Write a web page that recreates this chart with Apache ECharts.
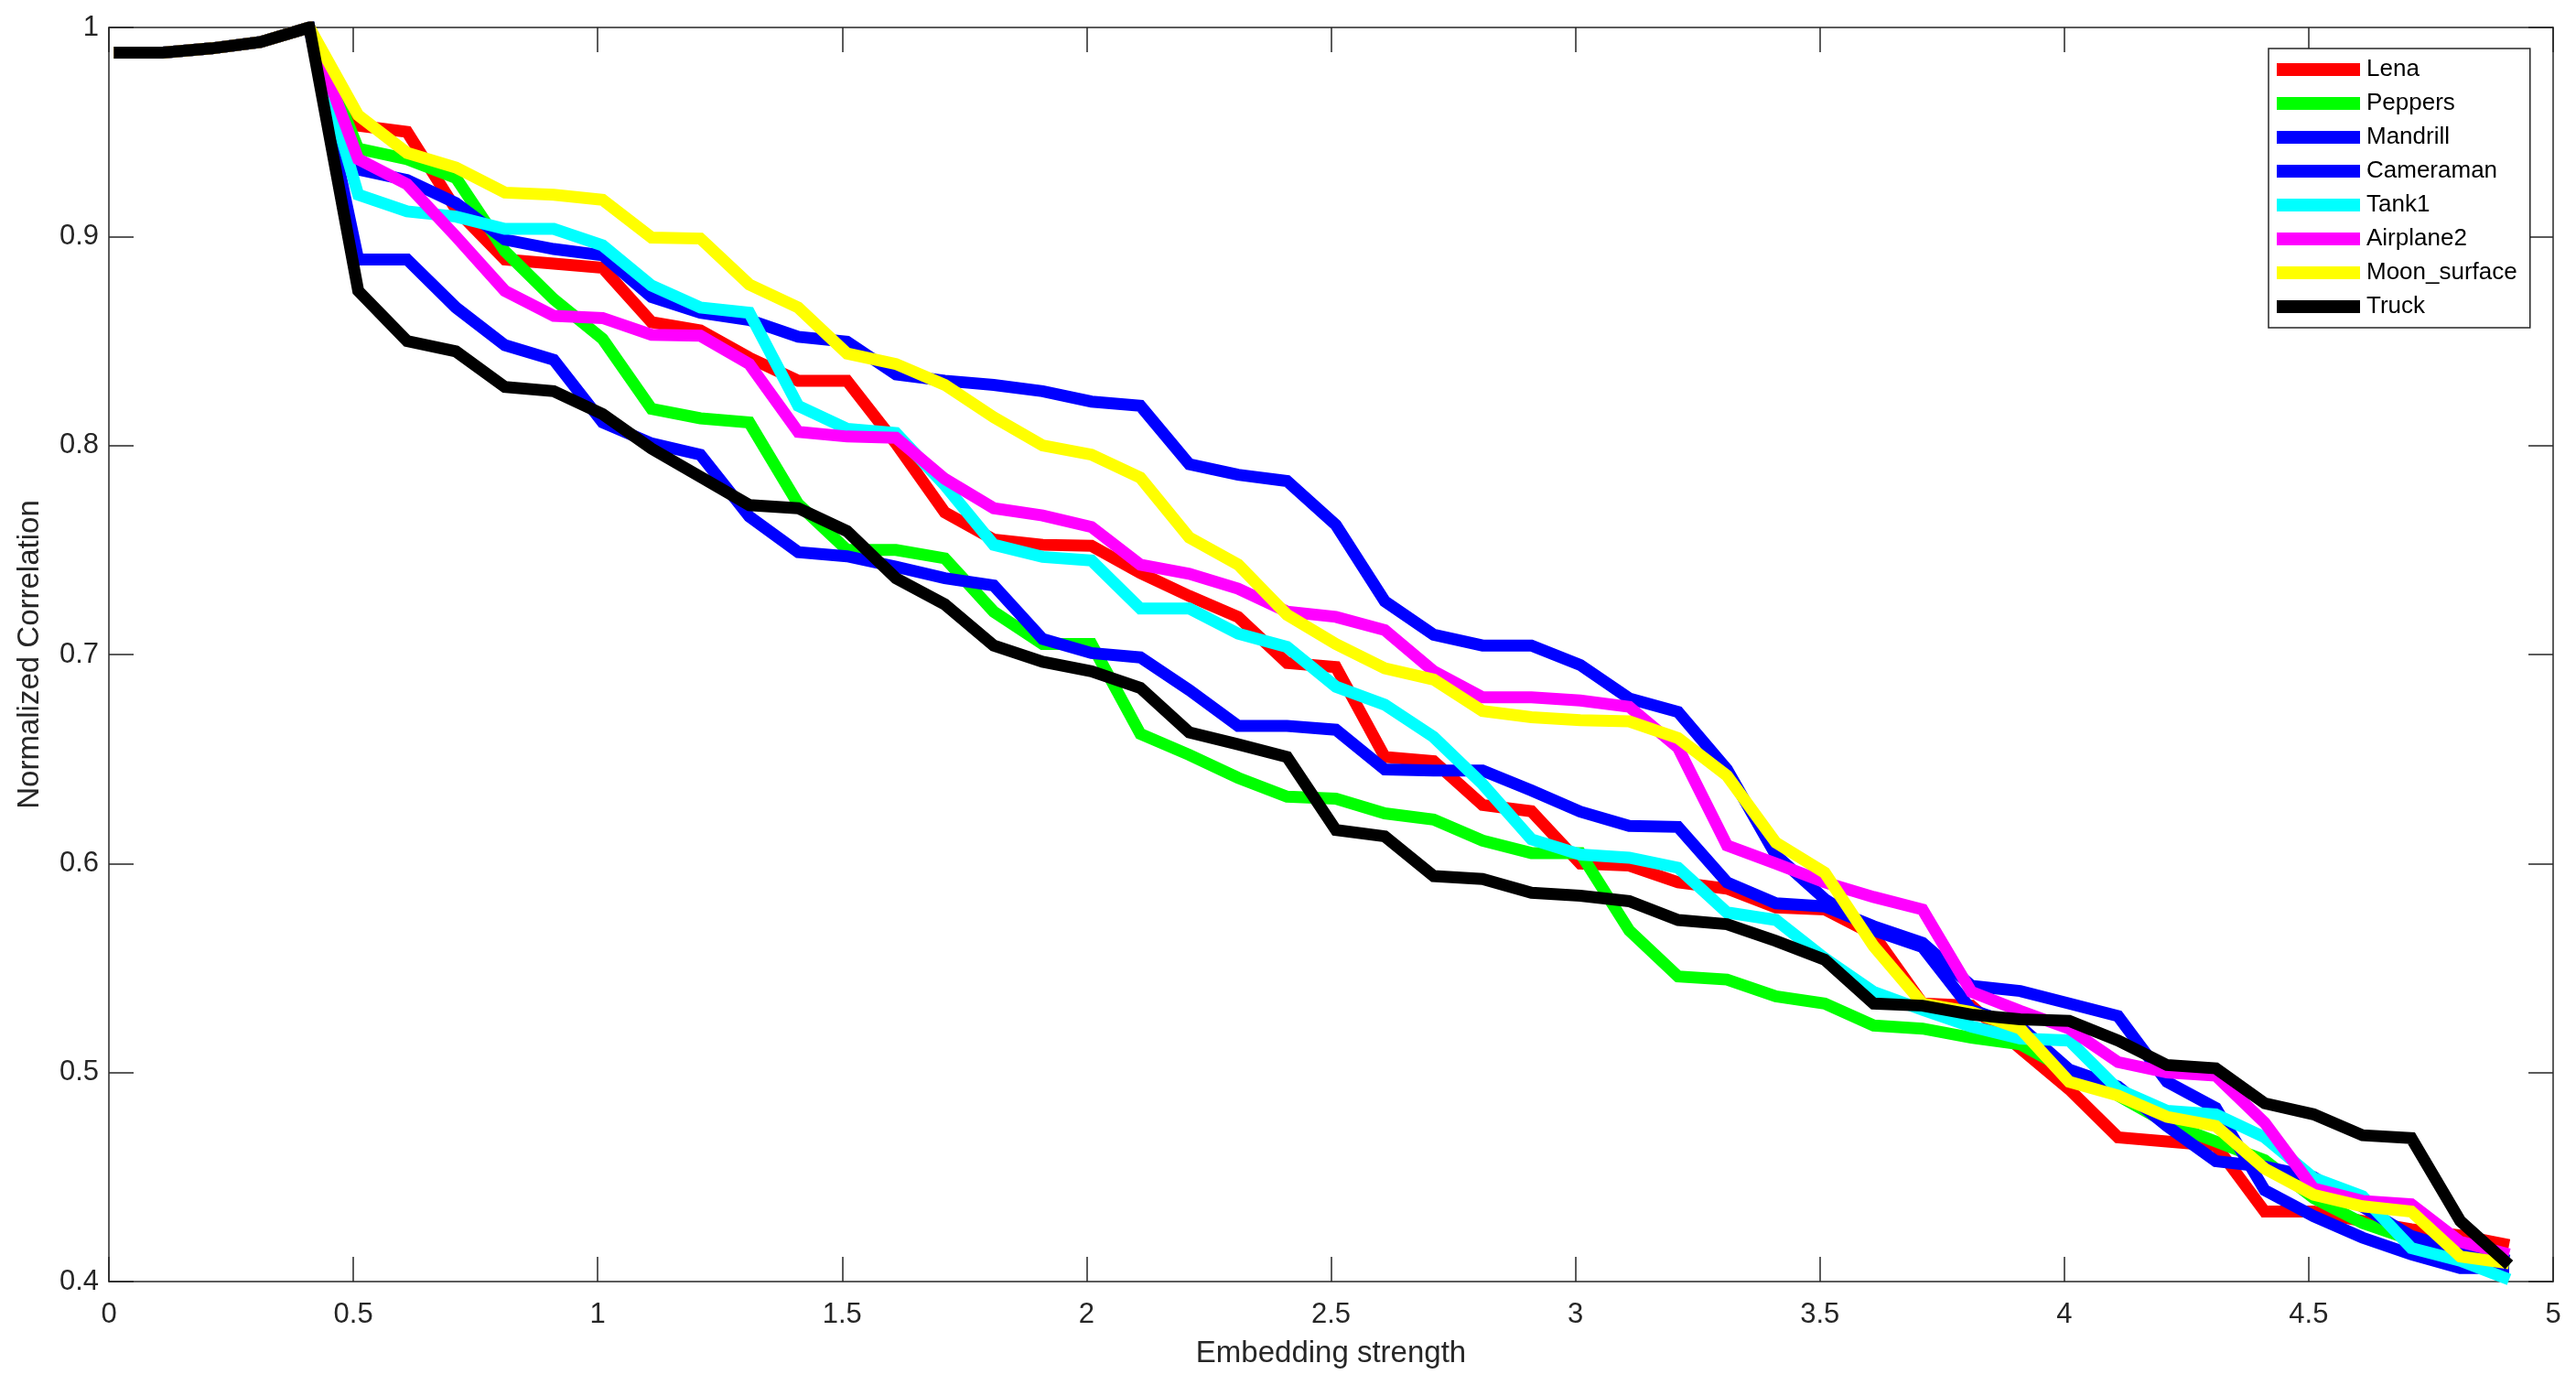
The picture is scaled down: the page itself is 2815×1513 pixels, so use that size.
<!DOCTYPE html>
<html>
<head>
<meta charset="utf-8">
<script src="https://cdn.jsdelivr.net/npm/echarts@6/dist/echarts.min.js"></script>
<style>
html,body{margin:0;padding:0;background:#fff;}
#chart{width:2815px;height:1513px;}
</style>
</head>
<body>
<div id="chart"></div>
<script>
// Embedding strength values (x)
const strength = [0.01,0.11,0.21,0.31,0.41,0.51,0.61,0.71,0.81,0.91,
  1.01,1.11,1.21,1.31,1.41,1.51,1.61,1.71,1.81,1.91,
  2.01,2.11,2.21,2.31,2.41,2.51,2.61,2.71,2.81,2.91,
  3.01,3.11,3.21,3.31,3.41,3.51,3.61,3.71,3.81,3.91,
  4.01,4.11,4.21,4.31,4.41,4.51,4.61,4.71,4.81,4.91];

const lena = [0.988,0.988,0.990,0.993,1.000,0.953,0.950,0.913,0.889,0.887,
  0.885,0.859,0.855,0.842,0.831,0.831,0.801,0.768,0.755,0.7525,
  0.752,0.739,0.728,0.718,0.696,0.694,0.651,0.649,0.628,0.625,
  0.600,0.599,0.591,0.588,0.579,0.578,0.566,0.533,0.532,0.5115,
  0.492,0.469,0.467,0.465,0.4335,0.4335,0.429,0.425,0.422,0.4175];

const peppers = [0.988,0.988,0.990,0.993,1.000,0.942,0.937,0.928,0.893,0.870,
  0.851,0.8175,0.813,0.811,0.772,0.750,0.750,0.746,0.7205,0.705,
  0.705,0.662,0.652,0.641,0.632,0.631,0.624,0.621,0.611,0.605,
  0.605,0.568,0.546,0.5445,0.5365,0.533,0.5225,0.521,0.5167,0.5135,
  0.5007,0.489,0.4758,0.467,0.458,0.440,0.428,0.420,0.412,0.407];

const mandrill = [0.988,0.988,0.990,0.993,1.000,0.932,0.927,0.916,0.8985,0.894,
  0.891,0.871,0.8635,0.860,0.852,0.8497,0.834,0.831,0.829,0.826,
  0.821,0.819,0.791,0.786,0.783,0.762,0.7255,0.7095,0.7043,0.7043,
  0.695,0.679,0.6725,0.645,0.604,0.583,0.568,0.560,0.530,0.522,
  0.5014,0.4933,0.4744,0.4576,0.455,0.450,0.4358,0.4218,0.4147,0.410];

const cameraman = [0.988,0.988,0.990,0.993,1.000,0.889,0.889,0.866,0.848,0.841,
  0.811,0.801,0.7956,0.766,0.749,0.747,0.742,0.7365,0.733,0.7074,
  0.7007,0.6986,0.683,0.6658,0.6658,0.664,0.645,0.6445,0.6445,0.635,
  0.6248,0.618,0.6175,0.591,0.581,0.5795,0.570,0.562,0.5415,0.539,
  0.533,0.527,0.4956,0.483,0.4437,0.4313,0.421,0.413,0.4065,0.4065];

const tank1 = [0.988,0.988,0.990,0.993,1.000,0.920,0.912,0.9095,0.9036,0.9036,
  0.8957,0.8765,0.866,0.8635,0.819,0.808,0.806,0.781,0.7525,0.7467,
  0.745,0.722,0.722,0.710,0.7036,0.6846,0.676,0.6605,0.638,0.6116,
  0.6043,0.6028,0.598,0.5766,0.573,0.5547,0.5386,0.530,0.522,0.5163,
  0.5153,0.492,0.4817,0.480,0.469,0.4496,0.4408,0.416,0.410,0.401];

const airplane2 = [0.988,0.988,0.990,0.993,1.000,0.937,0.925,0.900,0.874,0.862,
  0.861,0.853,0.8525,0.839,0.8065,0.8043,0.8037,0.784,0.770,0.7665,
  0.761,0.743,0.7386,0.7315,0.7205,0.718,0.7117,0.692,0.6795,0.6795,
  0.678,0.675,0.6554,0.6087,0.600,0.591,0.584,0.578,0.5386,0.5295,
  0.521,0.505,0.500,0.4985,0.476,0.4445,0.4386,0.437,0.419,0.413];

const moonSurface = [0.988,0.988,0.990,0.993,1.000,0.958,0.940,0.933,0.921,0.920,
  0.9175,0.8995,0.899,0.877,0.866,0.844,0.839,0.829,0.8135,0.800,
  0.7956,0.7846,0.756,0.743,0.719,0.705,0.6934,0.688,0.673,0.670,
  0.6686,0.668,0.660,0.642,0.610,0.5956,0.5605,0.533,0.529,0.521,
  0.4956,0.489,0.4788,0.4744,0.454,0.4415,0.436,0.4335,0.412,0.4087];

const truck = [0.988,0.988,0.990,0.993,1.000,0.874,0.850,0.845,0.828,0.826,
  0.815,0.7985,0.785,0.7715,0.770,0.759,0.7365,0.724,0.7043,0.6965,
  0.692,0.684,0.6627,0.657,0.651,0.616,0.613,0.594,0.5926,0.586,
  0.5846,0.582,0.573,0.571,0.563,0.554,0.533,0.532,0.5277,0.5255,
  0.5247,0.5153,0.5036,0.502,0.4853,0.480,0.470,0.4686,0.429,0.408];

const seriesNames = ['Lena','Peppers','Mandrill','Cameraman','Tank1','Airplane2','Moon_surface','Truck'];
const seriesValues = [lena, peppers, mandrill, cameraman, tank1, airplane2, moonSurface, truck];
const seriesColors = ['#ff0000','#00ff00','#0000ff','#0000ff','#00ffff','#ff00ff','#ffff00','#000000'];

const xTicks = ['0','0.5','1','1.5','2','2.5','3','3.5','4','4.5','5'];
const yTicks = ['0.4','0.5','0.6','0.7','0.8','0.9','1'];

const FONT = '"Liberation Sans", Arial, Helvetica, sans-serif';
const AXC = '#262626';

const chart = echarts.init(document.getElementById('chart'), null, {renderer:'canvas'});

const fmt = v => String(parseFloat(v.toFixed(2)));

const baseAxis = {
  axisLine:{show:true, onZero:false, lineStyle:{color:AXC, width:1.5}},
  axisTick:{show:true, inside:true, length:27, lineStyle:{color:AXC, width:1.5}},
  splitLine:{show:false}
};

const option = {
  backgroundColor:'#ffffff',
  animation:false,
  grid:{left:119, top:30, right:25, bottom:113, containLabel:false},
  legend:{
    orient:'vertical',
    left:2479, top:53,
    padding:[10,14,10,9],
    itemWidth:91, itemHeight:14, itemGap:11,
    icon:'rect',
    backgroundColor:'#ffffff',
    borderColor:AXC, borderWidth:1.5,
    textStyle:{fontFamily:FONT, fontSize:26, color:'#000', lineHeight:26, padding:[0,0,0,2]},
    data:seriesNames.map((n,i)=>({name:n, itemStyle:{color:seriesColors[i]}}))
  },
  xAxis:[
    Object.assign({}, baseAxis, {
      type:'value', position:'bottom', min:0, max:5, interval:0.5,
      name:'Embedding strength', nameLocation:'middle', nameGap:62,
      nameTextStyle:{fontFamily:FONT, fontSize:33, color:AXC},
      axisLabel:{show:true, margin:21, fontFamily:FONT, fontSize:31, color:AXC,
        formatter:(v)=>{const s=fmt(v); return xTicks.indexOf(s)>=0?s:'';}}
    }),
    Object.assign({}, baseAxis, {
      type:'value', position:'top', min:0, max:5, interval:0.5,
      axisLabel:{show:false}
    })
  ],
  yAxis:[
    Object.assign({}, baseAxis, {
      type:'value', position:'left', min:0.4, max:1, interval:0.1,
      name:'Normalized Correlation', nameLocation:'middle', nameGap:70, nameRotate:90,
      nameTextStyle:{fontFamily:FONT, fontSize:33, color:AXC},
      axisLabel:{show:true, margin:11, fontFamily:FONT, fontSize:31, color:AXC,
        formatter:(v)=>{const s=fmt(v); return yTicks.indexOf(s)>=0?s:'';}}
    }),
    Object.assign({}, baseAxis, {
      type:'value', position:'right', min:0.4, max:1, interval:0.1,
      axisLabel:{show:false}
    })
  ],
  series: seriesNames.map((n,i)=>({
    name:n, type:'line', xAxisIndex:0, yAxisIndex:0,
    data: strength.map((x,j)=>[x, seriesValues[i][j]]),
    showSymbol:false, symbol:'none',
    lineStyle:{color:seriesColors[i], width:13, join:'miter', cap:'butt'},
    itemStyle:{color:seriesColors[i]},
    emphasis:{disabled:true},
    z:2+i
  }))
};
chart.setOption(option);
</script>
</body>
</html>
